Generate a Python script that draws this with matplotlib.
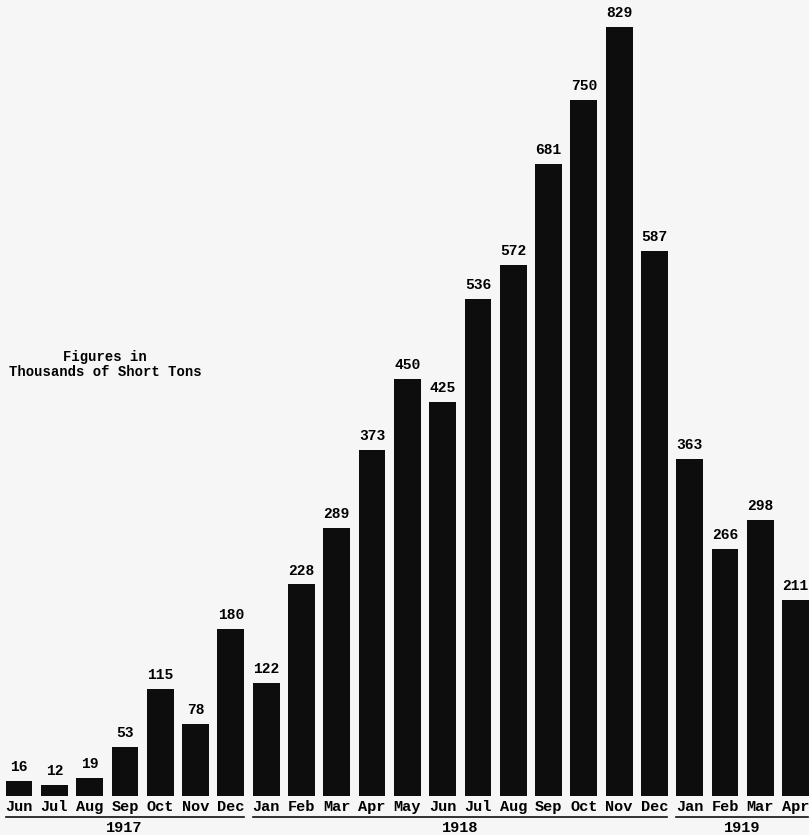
import matplotlib.pyplot as plt

months = ['Jun', 'Jul', 'Aug', 'Sep', 'Oct', 'Nov', 'Dec',
          'Jan', 'Feb', 'Mar', 'Apr', 'May', 'Jun', 'Jul', 'Aug', 'Sep', 'Oct', 'Nov', 'Dec',
          'Jan', 'Feb', 'Mar', 'Apr']
years = ['1917'] * 7 + ['1918'] * 12 + ['1919'] * 4
tons = [16, 12, 19, 53, 115, 78, 180,
        122, 228, 289, 373, 450, 425, 536, 572, 681, 750, 829, 587,
        363, 266, 298, 211]

font = 'Liberation Mono'
bg = '#f6f6f6'

fig = plt.figure(figsize=(8.09, 8.35), dpi=100, facecolor=bg)
ax = fig.add_axes([0, 0.0467, 1, 0.9533])
ax.set_facecolor(bg)

x = list(range(len(tons)))
ax.bar(x, tons, width=0.76, color='#0d0d0d')
for i, v in enumerate(tons):
    ax.annotate(str(v), (i, v), xytext=(0, 5), textcoords='offset points',
                ha='center', va='bottom', family=font, fontweight='bold', fontsize=10.5)

ax.set_xlim(-0.54, 22.38)
ax.set_ylim(0, 858)
ax.axis('off')

tr = ax.get_xaxis_transform()
for i, m in enumerate(months):
    ax.text(i, -0.0135, m, transform=tr, ha='center', va='center',
            family=font, fontweight='bold', fontsize=11, clip_on=False)

# year groups with a rule above the year
for yr in ['1917', '1918', '1919']:
    idx = [i for i, y in enumerate(years) if y == yr]
    x0, x1 = idx[0] - 0.38, idx[-1] + 0.36
    ax.plot([x0, x1], [-0.0265, -0.0265], transform=tr, color='#111111', lw=1.2, clip_on=False)
    ax.text((x0 + x1) / 2, -0.04, yr, transform=tr, ha='center', va='center',
            family=font, fontweight='bold', fontsize=11, clip_on=False)

fig.text(0.13, 0.563, 'Figures in\nThousands of Short Tons', ha='center', va='center',
         family=font, fontweight='bold', fontsize=10, linespacing=1.1)

fig.savefig('out.png', dpi=100, facecolor=bg)
